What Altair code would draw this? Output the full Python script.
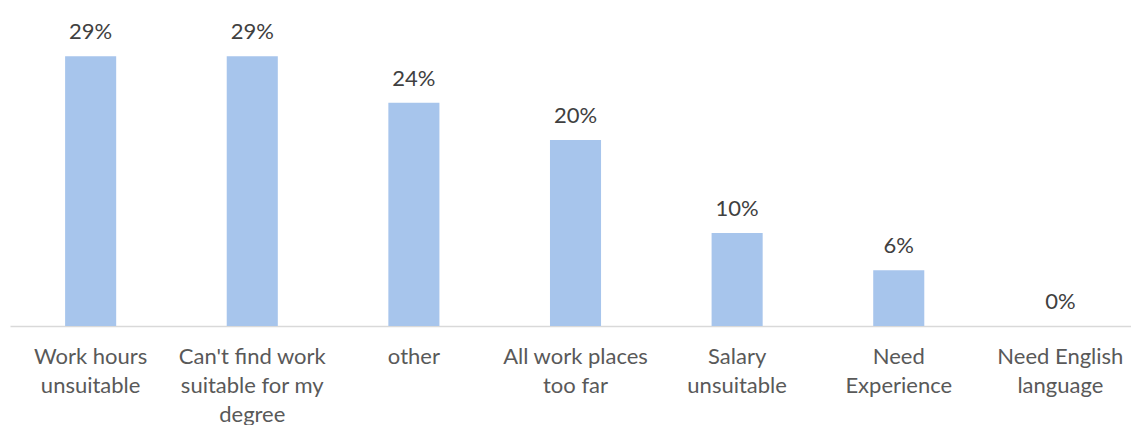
import altair as alt
import pandas as pd

# Reasons given, share of respondents (%)
reasons = [
    "Work hours|unsuitable",
    "Can't find work|suitable for my|degree",
    "other",
    "All work places|too far",
    "Salary|unsuitable",
    "Need|Experience",
    "Need English|language",
]
shares = [29, 29, 24, 20, 10, 6, 0]
value_labels = ["29%", "29%", "24%", "20%", "10%", "6%", "0%"]

df = pd.DataFrame({"reason": reasons, "share": shares, "label": value_labels})

FONT = "Lato"

x_enc = alt.X(
    "reason:N",
    sort=reasons,
    scale=alt.Scale(paddingInner=0.684, paddingOuter=0.31, align=0.55),
    axis=alt.Axis(
        title=None,
        labelAngle=0,
        ticks=False,
        grid=False,
        domainColor="#D9D9D9",
        domainWidth=1.5,
        labelExpr="split(datum.label, '|')",
        labelFont=FONT,
        labelFontSize=22,
        labelColor="#595959",
        labelLineHeight=29,
        labelPadding=20,
        labelBaseline="top",
        labelLimit=300,
    ),
)
y_enc = alt.Y("share:Q", scale=alt.Scale(domain=[0, 30]), axis=None)

bars = alt.Chart(df).mark_bar(color="#A7C5EC").encode(x=x_enc, y=y_enc)

texts = alt.Chart(df).mark_text(
    baseline="alphabetic",
    dy=-17,
    font=FONT,
    fontSize=22,
    color="#404040",
).encode(x=x_enc, y=y_enc, text="label:N")

chart = (
    alt.layer(bars, texts)
    .properties(
        width=1121,
        height=279,
        padding={"left": 10, "top": 21, "right": 0, "bottom": 0},
        background="white",
    )
    .configure_view(stroke=None)
)

chart.save("out.html", embed_options={"renderer": "svg", "actions": False})
